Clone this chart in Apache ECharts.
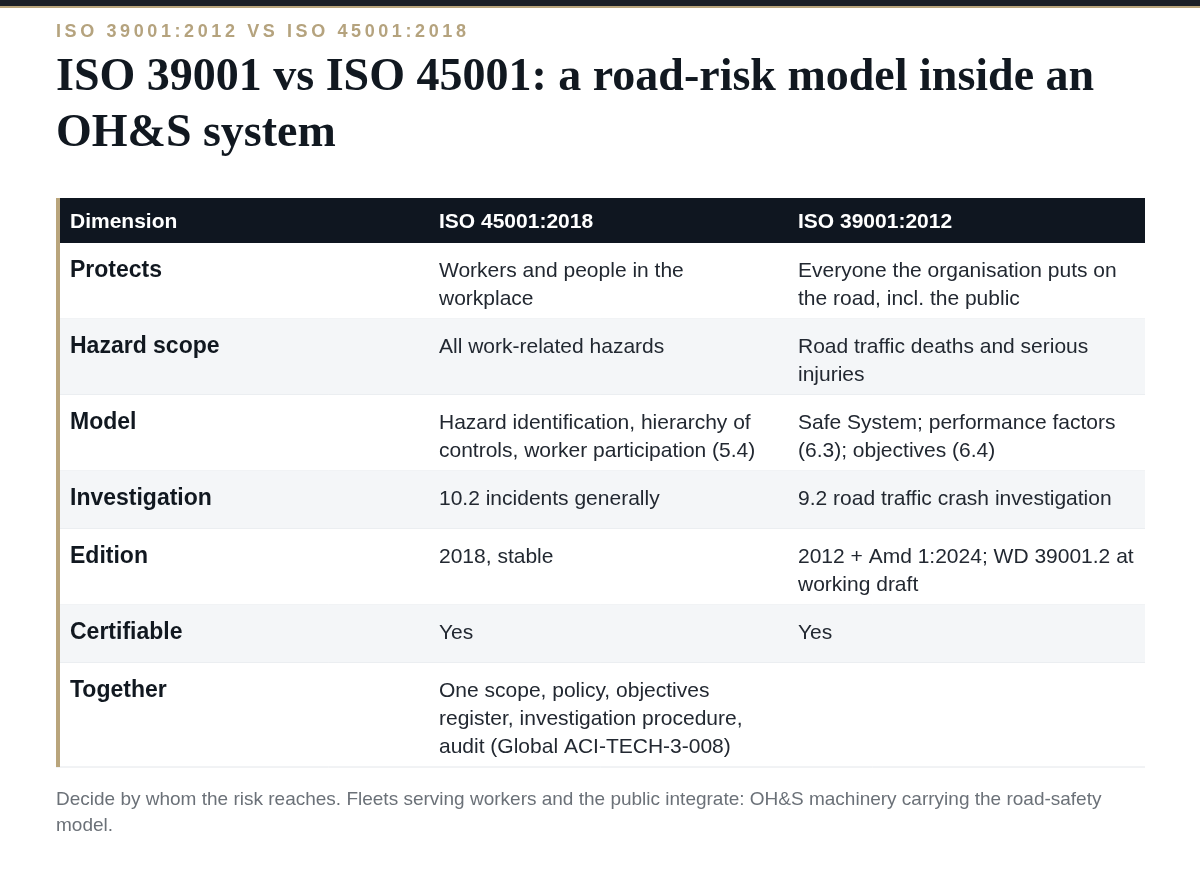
<!DOCTYPE html>
<html>
<head>
<meta charset="utf-8" />
<title>ISO 39001 vs ISO 45001</title>
<script src="https://cdn.jsdelivr.net/npm/echarts@6/dist/echarts.min.js"></script>
<style>
  html, body { margin: 0; height: 100%; background: #fff; }
  #main { width: 1200px; height: 896px; }
</style>
</head>
<body>
<div id="main"></div>
<script>
// table content
var kicker = 'ISO 39001:2012 VS ISO 45001:2018';
var title = 'ISO 39001 vs ISO 45001: a road-risk model inside an\nOH&S system';
var headers = ['Dimension', 'ISO 45001:2018', 'ISO 39001:2012'];
var dimensions = ['Protects', 'Hazard scope', 'Model', 'Investigation', 'Edition', 'Certifiable', 'Together'];
var iso45001 = [
  'Workers and people in the\nworkplace',
  'All work-related hazards',
  'Hazard identification, hierarchy of\ncontrols, worker participation (5.4)',
  '10.2 incidents generally',
  '2018, stable',
  'Yes',
  'One scope, policy, objectives\nregister, investigation procedure,\naudit (Global ACI-TECH-3-008)'
];
var iso39001 = [
  'Everyone the organisation puts on\nthe road, incl. the public',
  'Road traffic deaths and serious\ninjuries',
  'Safe System; performance factors\n(6.3); objectives (6.4)',
  '9.2 road traffic crash investigation',
  '2012 + Amd 1:2024; WD 39001.2 at\nworking draft',
  'Yes',
  ''
];
var footnote = 'Decide by whom the risk reaches. Fleets serving workers and the public integrate: OH&S machinery carrying the road-safety\nmodel.';

var sans = '"Liberation Sans", Arial, sans-serif';
var colX = [70, 439, 798];
var left = 56, right = 1145, headTop = 198, headH = 45, lh = 28;

var g = [];
g.push({ type: 'rect', shape: { x: 0, y: 0, width: 1200, height: 6 }, style: { fill: '#1b1f27' } });
g.push({ type: 'rect', shape: { x: 0, y: 6, width: 1200, height: 2 }, style: { fill: '#b9a57c' } });
g.push({ type: 'text', x: 56, y: 23, style: { text: kicker.split('').join('\u2009'), fill: '#b5a37e', font: 'bold 18px ' + sans } });
g.push({ type: 'text', x: 56, y: 50, style: { text: title, fill: '#111820', font: 'bold 46px "Liberation Serif", "DejaVu Serif", serif', lineHeight: 56 } });

// header
g.push({ type: 'rect', shape: { x: left, y: headTop, width: right - left, height: headH }, style: { fill: '#0f1620' } });
headers.forEach(function (h, i) {
  g.push({ type: 'text', x: colX[i], y: headTop + headH / 2 + 2, style: { text: h, fill: '#fff', font: 'bold 21px ' + sans, verticalAlign: 'middle' } });
});

// rows
var y = headTop + headH;
dimensions.forEach(function (d, i) {
  var lines = Math.max(iso45001[i].split('\n').length, iso39001[i] ? iso39001[i].split('\n').length : 1);
  var h = Math.max(58, 20 + lh * lines);
  g.push({ type: 'rect', shape: { x: left, y: y, width: right - left, height: h }, style: { fill: i % 2 ? '#f4f6f8' : '#ffffff' } });
  g.push({ type: 'line', shape: { x1: left, y1: y + h, x2: right, y2: y + h }, style: { stroke: '#e3e6ea', lineWidth: 1 } });
  g.push({ type: 'text', x: colX[0], y: y + 14, style: { text: d, fill: '#111820', font: 'bold 23px ' + sans, lineHeight: lh, verticalAlign: 'top' } });
  g.push({ type: 'text', x: colX[1], y: y + 14, style: { text: iso45001[i], fill: '#222831', font: '21px ' + sans, lineHeight: lh, verticalAlign: 'top' } });
  g.push({ type: 'text', x: colX[2], y: y + 14, style: { text: iso39001[i], fill: '#222831', font: '21px ' + sans, lineHeight: lh, verticalAlign: 'top' } });
  y += h;
});
g.push({ type: 'rect', shape: { x: left, y: headTop, width: 4, height: y - headTop }, style: { fill: '#b9a57c' }, z: 10 });

g.push({ type: 'text', x: 56, y: y + 20, style: { text: footnote, fill: '#6b7178', font: '19px ' + sans, lineHeight: 26 } });

var myChart = echarts.init(document.getElementById('main'));
myChart.setOption({ animation: false, graphic: g });
</script>
</body>
</html>
